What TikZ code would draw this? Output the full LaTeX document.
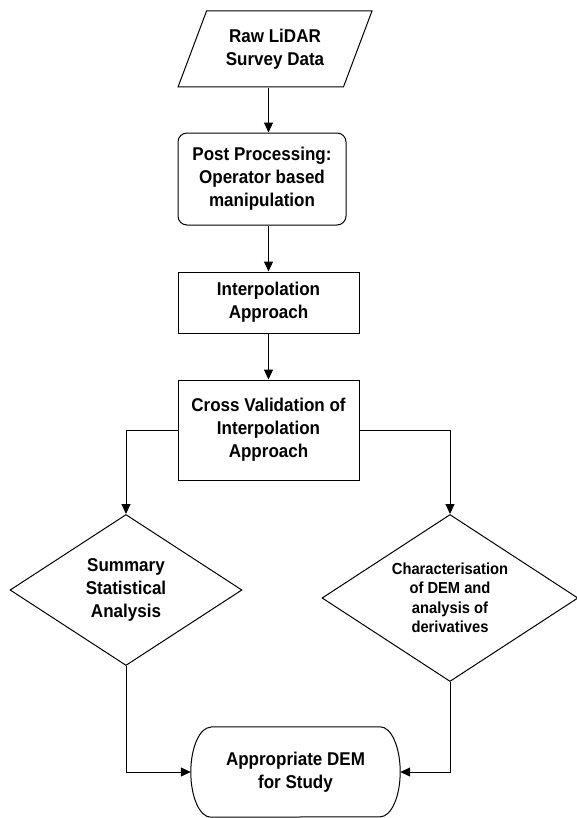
\documentclass[tikz,border=0pt]{standalone}
\usepackage{fontspec}
\setmainfont[FakeStretch=0.92]{Liberation Sans}
\usepackage{tikz}
\usetikzlibrary{shapes.geometric, arrows.meta, positioning}
\tikzset{
  baseblock/.style={
    draw=black, line width=1pt, fill=white,
    align=center, inner sep=0pt
  },
  datablock/.style={
    baseblock, trapezium, trapezium left angle=63, trapezium right angle=117,
    trapezium stretches=true, minimum width=194pt, minimum height=76pt
  },
  processblock/.style={baseblock, rectangle, rounded corners=9pt, minimum width=168pt, minimum height=92pt},
  stepblock/.style={baseblock, rectangle, minimum width=181pt},
  decisionblock/.style={baseblock, diamond, aspect=1.5},
  endblock/.style={
    rectangle, align=center, inner sep=0pt,
    minimum width=209pt, minimum height=90pt
  },
  endline/.style={draw=black, line width=1pt},
  flowline/.style={
    draw=black, line width=1pt, -{Triangle[length=10pt, width=9pt]}
  }
}
\begin{document}
\begin{tikzpicture}[
  x=1pt, y=-1pt,
  font=\fontsize{18.5}{23}\selectfont\bfseries
]
  \useasboundingbox (0,0) rectangle (576,818);

  % Main column
  \node[datablock] (raw) at (275,49) {Raw LiDAR\\Survey Data};
  \node[processblock, below=45pt of raw, xshift=-13pt] (post) {Post Processing:\\Operator based\\manipulation};
  \node[stepblock, minimum height=61pt, below=46pt of post, xshift=6.5pt] (interp) {Interpolation\\Approach};
  \node[stepblock, minimum height=100pt, below=46pt of interp] (cv) {Cross Validation of\\Interpolation\\Approach};

  % Branches
  \node[decisionblock, minimum width=232pt, minimum height=151pt] (summary) at (126,590) {Summary\\Statistical\\Analysis};
  \node[decisionblock, minimum width=256pt, minimum height=167pt,
    font=\fontsize{16}{19.5}\selectfont\bfseries] (charac) at (450,598)
    {Characterisation\\of DEM and\\analysis of\\derivatives};

  % Terminal (elliptic ends)
  \node[endblock] (dem) at (295.5,772) {Appropriate DEM\\for Study};
  \draw[endline] ([xshift=20pt]dem.north west) -- ([xshift=-20pt]dem.north east)
    arc[start angle=90, end angle=-90, x radius=20pt, y radius=45pt]
    -- ([xshift=20pt]dem.south west)
    arc[start angle=270, end angle=90, x radius=20pt, y radius=45pt];

  % Connectors
  \draw[flowline] (interp.north |- raw.south) -- (interp.north |- post.north);
  \draw[flowline] (interp.north |- post.south) -- (interp.north);
  \draw[flowline] (interp) -- (cv);
  \draw[flowline] (cv.west) -| (summary.north);
  \draw[flowline] (cv.east) -| (charac.north);
  \draw[flowline] (summary.south) |- (dem.west);
  \draw[flowline] (charac.south) |- (dem.east);

\end{tikzpicture}
\end{document}
